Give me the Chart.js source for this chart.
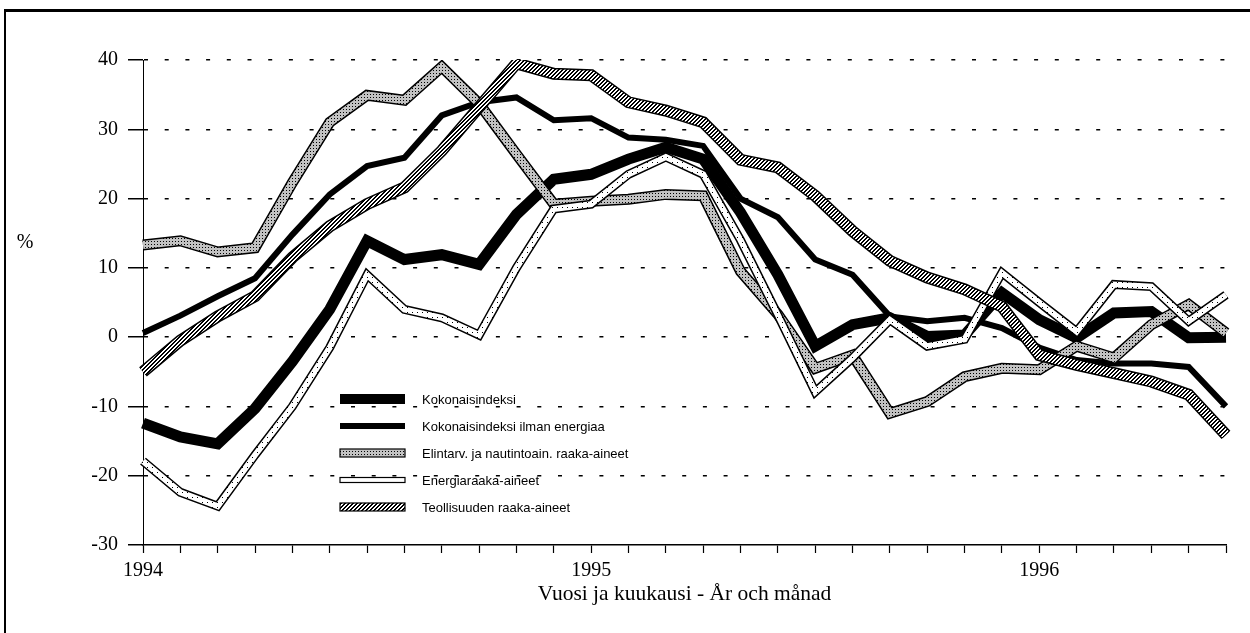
<!DOCTYPE html>
<html>
<head>
<meta charset="utf-8">
<script src="https://cdn.jsdelivr.net/npm/chart.js@4.4.1/dist/chart.umd.min.js"></script>
<style>
  html, body { margin: 0; padding: 0; background: #fff; }
  #wrap { position: relative; width: 1250px; height: 633px; }
</style>
</head>
<body>
<div id="wrap"><canvas id="chart"></canvas></div>
<script>
// --- Data, monthly Jan 1994 - Jun 1996 ---
const months = [
  '1994-01','1994-02','1994-03','1994-04','1994-05','1994-06','1994-07','1994-08','1994-09','1994-10','1994-11','1994-12',
  '1995-01','1995-02','1995-03','1995-04','1995-05','1995-06','1995-07','1995-08','1995-09','1995-10','1995-11','1995-12',
  '1996-01','1996-02','1996-03','1996-04','1996-05','1996-06'
];
const kokonaisindeksi = [-12.4, -14.4, -15.4, -10.3, -3.5, 4, 13.9, 11.2, 11.9, 10.5, 17.7, 22.8, 23.5, 25.7, 27.4, 25.7, 18, 9, -1.3, 1.8, 2.8, 0.1, 0.3, 6.4, 2.5, -0.1, 3.5, 3.7, -0.1, 0];
const ilmanEnergiaa = [0.6, 3.1, 5.9, 8.5, 14.8, 20.6, 24.7, 25.9, 32, 33.9, 34.6, 31.3, 31.6, 28.8, 28.5, 27.6, 20, 17.3, 11.2, 9, 3, 2.3, 2.8, 1.3, -1.5, -3.3, -3.8, -3.8, -4.3, -10];
const elintarvikkeet = [13.3, 13.9, 12.3, 12.9, 22.3, 31, 34.9, 34.2, 39, 33.7, 26.4, 19.2, 19.6, 19.9, 20.6, 20.4, 9.5, 3.3, -4.5, -2.6, -11, -9.3, -5.7, -4.5, -4.7, -1.3, -3, 1.8, 4.7, 0.6];
const energia = [-17.9, -22.4, -24.4, -17, -10, -1.5, 9, 4, 2.8, 0.3, 10, 18.5, 19.2, 23.5, 26, 23.5, 14, 3.2, -7.9, -3, 2.5, -1.3, -0.3, 9.3, 5, 0.8, 7.6, 7.3, 2.3, 6.1];
const teollisuus = [-5, -0.5, 3, 5.9, 11.5, 16, 19.2, 21.6, 26.9, 33.2, 39.5, 38, 37.8, 33.9, 32.7, 31, 25.6, 24.5, 20.4, 15.3, 11, 8.6, 6.9, 4.4, -2.6, -4, -5.2, -6.4, -8.3, -14.1];
const seriesNames = [
  'Kokonaisindeksi',
  'Kokonaisindeksi ilman energiaa',
  'Elintarv. ja nautintoain. raaka-aineet',
  'Energiaraaka-aineet',
  'Teollisuuden raaka-aineet'
];
const yTicks = [-30, -20, -10, 0, 10, 20, 30, 40];
const unitLabel = '%';
const xTitle = 'Vuosi ja kuukausi - År och månad';

const SERIF = "'Liberation Serif', 'Times New Roman', serif";
const SANS = "'Liberation Sans', Arial, sans-serif";

const canvas = document.getElementById('chart');
const ctx0 = canvas.getContext('2d');

// small fill patterns for the banded lines
function makePattern(size, bg, pixels) {
  const c = document.createElement('canvas');
  c.width = size; c.height = size;
  const g = c.getContext('2d');
  g.fillStyle = bg;
  g.fillRect(0, 0, size, size);
  g.fillStyle = '#000';
  pixels.forEach(p => g.fillRect(p[0], p[1], 1, 1));
  return ctx0.createPattern(c, 'repeat');
}
const stipple = makePattern(3, '#c2c2c2', [[1, 1]]);
const dotted = makePattern(5, '#ffffff', [[2, 2]]);
const hatch = makePattern(4, '#ffffff', [[3, 0], [0, 0], [2, 1], [3, 1], [1, 2], [2, 2], [0, 3], [1, 3]]);

function lineDs(label, data, color, width, order) {
  return {
    label: label,
    data: data,
    borderColor: color,
    borderWidth: width,
    pointRadius: 0,
    tension: 0,
    fill: false,
    order: order,
    borderJoinStyle: 'miter',
    borderCapStyle: 'butt'
  };
}

// higher order = drawn first (underneath)
const datasets = [
  lineDs(seriesNames[0], kokonaisindeksi, '#000', 11, 10),
  lineDs(seriesNames[1], ilmanEnergiaa, '#000', 6, 9),
  lineDs('_o2', elintarvikkeet, '#000', 11, 8),
  lineDs(seriesNames[2], elintarvikkeet, stipple, 8, 7),
  lineDs('_o3', energia, '#000', 9, 6),
  lineDs(seriesNames[3], energia, dotted, 6, 5),
  lineDs('_o4', teollisuus, '#000', 12, 4),
  lineDs(seriesNames[4], teollisuus, hatch, 9, 3)
];

const legendSwatches = [
  { fill: '#000', h: 10, outline: false },
  { fill: '#000', h: 6, outline: false },
  { fill: stipple, h: 8, outline: true },
  { fill: dotted, h: 5, outline: true },
  { fill: hatch, h: 8, outline: true }
];

const decorations = {
  id: 'decorations',
  beforeDraw(chart) {
    const ctx = chart.ctx;
    ctx.save();
    ctx.strokeStyle = '#000';
    ctx.lineWidth = 3;
    ctx.beginPath();
    ctx.moveTo(4, 10.5);
    ctx.lineTo(1250, 10.5);
    ctx.stroke();
    ctx.lineWidth = 2;
    ctx.beginPath();
    ctx.moveTo(5, 10);
    ctx.lineTo(5, 633);
    ctx.stroke();
    ctx.fillStyle = '#000';
    ctx.font = '20px ' + SERIF;
    ctx.textAlign = 'center';
    ctx.textBaseline = 'middle';
    ctx.fillText(unitLabel, 25, 243);
    ctx.restore();
  },
  afterDraw(chart) {
    const ctx = chart.ctx;
    const x0 = 340, w = 65, top = 399, step = 27;
    ctx.save();
    seriesNames.forEach((name, i) => {
      const sw = legendSwatches[i];
      const cy = top + i * step;
      ctx.fillStyle = sw.fill;
      ctx.fillRect(x0, cy - sw.h / 2, w, sw.h);
      if (sw.outline) {
        ctx.strokeStyle = '#000';
        ctx.lineWidth = 1.2;
        ctx.strokeRect(x0, cy - sw.h / 2, w, sw.h);
      }
      ctx.fillStyle = '#000';
      ctx.font = '13px ' + SANS;
      ctx.textAlign = 'left';
      ctx.textBaseline = 'middle';
      ctx.fillText(name, 422, cy + 1);
    });
    ctx.restore();
  }
};

new Chart(canvas, {
  type: 'line',
  data: { labels: months, datasets: datasets },
  plugins: [decorations],
  options: {
    responsive: true,
    maintainAspectRatio: false,
    animation: false,
    layout: { padding: { left: 0, top: 60, right: 24, bottom: 23 } },
    plugins: {
      legend: { display: false },
      tooltip: { enabled: false }
    },
    scales: {
      x: {
        type: 'category',
        offset: false,
        afterFit: (s) => { s.height = 65; },
        grid: {
          display: true,
          drawOnChartArea: false,
          drawTicks: true,
          tickLength: 8,
          tickColor: '#000',
          tickWidth: 1.2
        },
        border: { display: true, color: '#000', width: 1.5 },
        ticks: {
          autoSkip: false,
          maxRotation: 0,
          minRotation: 0,
          padding: 6,
          color: '#000',
          font: { family: SERIF, size: 20 },
          callback: function (val) {
            const lab = this.getLabelForValue(val);
            return lab.endsWith('-01') ? lab.slice(0, 4) : '';
          }
        },
        title: {
          display: true,
          text: xTitle,
          color: '#000',
          font: { family: SERIF, size: 21.5 },
          padding: { top: 4, bottom: 3 }
        }
      },
      y: {
        min: yTicks[0],
        max: yTicks[yTicks.length - 1],
        afterFit: (s) => { s.width = 143; },
        afterBuildTicks: (s) => { s.ticks = yTicks.map(v => ({ value: v })); },
        grid: {
          color: (c) => (c.tick && c.tick.value === yTicks[0]) ? 'rgba(0,0,0,0)' : '#000',
          lineWidth: 1.5,
          tickLength: 15,
          tickColor: '#000',
          tickWidth: 1.5,
          tickBorderDash: []
        },
        border: { display: true, color: '#000', width: 1, dash: [4, 16.7] },
        ticks: {
          padding: 10,
          color: '#000',
          font: { family: SERIF, size: 20 }
        }
      }
    }
  }
});
</script>
</body>
</html>
